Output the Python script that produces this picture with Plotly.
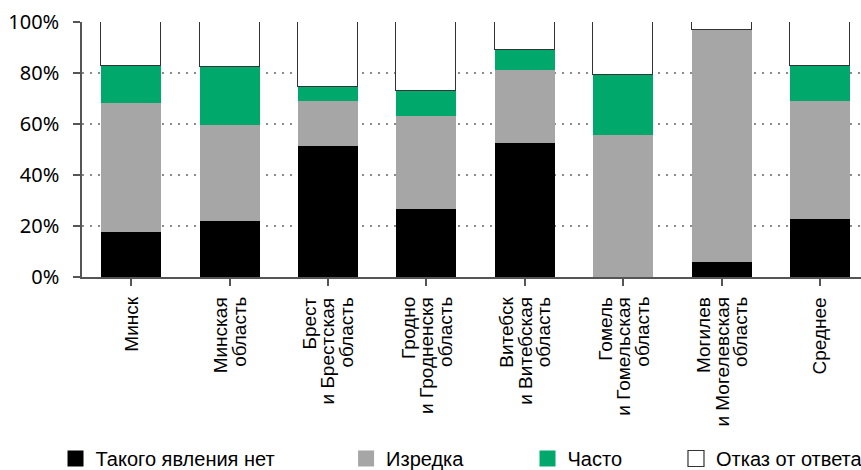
import plotly.graph_objects as go

# Regions (each label split into lines) and answer shares, %
regions = [
    ["Минск"],
    ["Минская", "область"],
    ["Брест", "и Брестская", "область"],
    ["Гродно", "и Гродненскя", "область"],
    ["Витебск", "и Витебская", "область"],
    ["Гомель", "и Гомельская", "область"],
    ["Могилев", "и Могелевская", "область"],
    ["Среднее"],
]
no_such = [17.5, 21.8, 51.5, 26.7, 52.5, 0.0, 6.0, 22.8]
rarely = [50.7, 37.8, 17.5, 36.4, 28.7, 55.7, 90.8, 46.2]
often = [14.7, 22.6, 5.6, 9.8, 8.0, 23.4, 0.0, 13.9]
refused = [17.1, 17.8, 25.4, 27.1, 10.8, 20.9, 3.2, 17.1]

series_names = ["Такого явления нет", "Изредка", "Часто", "Отказ от ответа"]
y_ticks = [0, 20, 40, 60, 80, 100]
y_tick_text = ["0%", "20%", "40%", "60%", "80%", "100%"]

colors = ["#000000", "#a6a6a6", "#00a96b", "#ffffff"]
series = [no_such, rarely, often, refused]

x_idx = list(range(len(regions)))

fig = go.Figure()
for name, vals, col in zip(series_names, series, colors):
    outlined = col == "#ffffff"
    fig.add_trace(go.Bar(
        x=x_idx, y=vals, name=name, width=0.61,
        marker=dict(color=col,
                    line=dict(color="#333333" if outlined else col,
                              width=1.5 if outlined else 0)),
        showlegend=False, cliponaxis=False,
    ))

# Legend entries: one legend per series so each can sit at its own spot
legend_x = [-0.034, 0.339, 0.5719, 0.7625]
legend_keys = ["legend", "legend2", "legend3", "legend4"]
for name, col, key in zip(series_names, colors, legend_keys):
    outlined = col == "#ffffff"
    fig.add_trace(go.Scatter(
        x=[None], y=[None], mode="markers", name=name, legend=key,
        marker=dict(symbol="square", size=16, color=col,
                    line=dict(color="#333333" if outlined else col,
                              width=1.2 if outlined else 0)),
    ))

legend_font = dict(family="Liberation Sans", size=20, color="#000000")
legend_layout = {}
for key, lx in zip(legend_keys, legend_x):
    legend_layout[key] = dict(
        x=lx, xanchor="left", y=0.0245, yanchor="middle", yref="container",
        orientation="h", font=legend_font, bgcolor="rgba(0,0,0,0)",
        borderwidth=0, itemsizing="trace",
    )

# Category labels below the axis, one rotated annotation per line
line_gap = 18.5
annotations = []
for i, lines in enumerate(regions):
    n = len(lines)
    for j, txt in enumerate(lines):
        annotations.append(dict(
            x=i, xref="x", y=0, yref="paper", yshift=-19,
            xanchor="center", yanchor="top", textangle=-90,
            xshift=(j - (n - 1) / 2) * line_gap,
            text=txt, showarrow=False,
            font=dict(family="Liberation Sans", size=19, color="#000000"),
            borderpad=0,
        ))

axis_col = "#555555"
fig.update_layout(
    width=861, height=470,
    margin=dict(l=82, r=0, t=22, b=193, autoexpand=False),
    paper_bgcolor="white", plot_bgcolor="white",
    barmode="stack", bargap=0,
    annotations=annotations,
    **legend_layout,
)
fig.update_xaxes(
    range=[-0.5, 7.417], showticklabels=False,
    tickmode="array", tickvals=x_idx, tickson="boundaries",
    ticks="outside", ticklen=7, tickwidth=1.5, tickcolor=axis_col,
    showline=True, linecolor=axis_col, linewidth=1.5,
    showgrid=False, zeroline=False,
)
fig.update_yaxes(
    range=[0, 100], tickmode="array", tickvals=y_ticks, ticktext=y_tick_text,
    ticks="outside", ticklen=7, tickwidth=1.5, tickcolor=axis_col,
    ticklabelstandoff=10,
    tickfont=dict(family="Noto Sans", size=20, color="#000000"),
    showline=True, linecolor=axis_col, linewidth=1.5,
    showgrid=True, gridcolor="#8a8a8a", gridwidth=1.5, griddash="2px,6px",
    zeroline=False,
)

fig.write_html("out.html")
